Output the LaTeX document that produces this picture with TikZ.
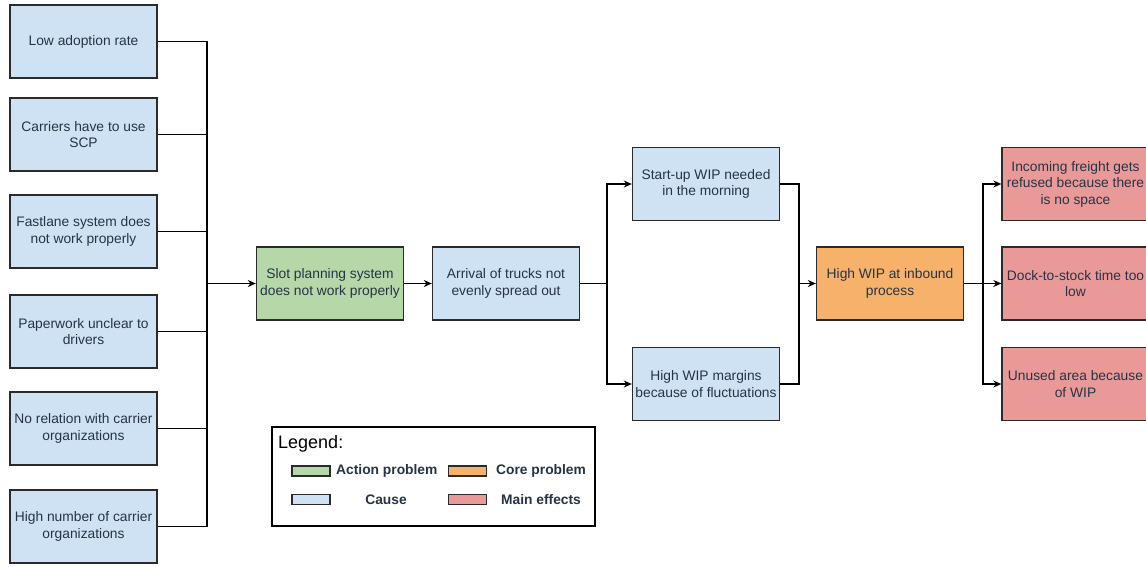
\documentclass[tikz,border=0pt]{standalone}
\usepackage{fontspec}
\setmainfont{Liberation Sans}
\usetikzlibrary{arrows.meta}
\definecolor{causec}{HTML}{CFE2F3}
\definecolor{actionc}{HTML}{B6D7A8}
\definecolor{corec}{HTML}{F6B26B}
\definecolor{effectc}{HTML}{EA9999}
\definecolor{edgec}{HTML}{2B2B2B}
\definecolor{txtc}{HTML}{263445}
\tikzset{
  box/.style={draw=edgec, line width=1.3pt, minimum width=147pt, minimum height=73pt,
    align=center, inner sep=1pt, text=txtc,
    font=\fontsize{13.8}{16.5}\selectfont},
  cause/.style={box, fill=causec},
  action/.style={box, fill=actionc},
  core/.style={box, fill=corec},
  effect/.style={box, fill=effectc},
  link/.style={draw=black, line width=1.4pt},
  arr/.style={link, -{Stealth[length=8pt,width=7pt,inset=2.5pt]}},
  swatch/.style={draw=edgec, line width=1.3pt, minimum width=38pt, minimum height=10pt, inner sep=0pt},
  legtxt/.style={text=txtc, font=\fontsize{13.8}{16}\selectfont\bfseries, inner sep=0pt}
}
\begin{document}
\begin{tikzpicture}[x=1pt,y=-1pt]
\useasboundingbox (0,0) rectangle (1146,566);
\clip (0,0) rectangle (1146,566);
\fill[white] (0,0) rectangle (1146,566);
% causes column
\node[cause] (c1) at (83.5,41.5) {Low adoption rate};
\node[cause] (c2) at (83.5,134.5) {Carriers have to use\\SCP};
\node[cause] (c3) at (83.5,231.5) {Fastlane system does\\not work properly};
\node[cause] (c4) at (83.5,331.5) {Paperwork unclear to\\drivers};
\node[cause] (c5) at (83.5,428.5) {No relation with carrier\\organizations};
\node[cause] (c6) at (83.5,526.5) {High number of carrier\\organizations};
% main chain
\node[action] (slot) at (330,283.5) {Slot planning system\\does not work properly};
\node[cause] (arrv) at (506,283.5) {Arrival of trucks not\\evenly spread out};
\node[cause] (su) at (706,184) {Start-up WIP needed\\in the morning};
\node[cause] (mg) at (706,384) {High WIP margins\\because of fluctuations};
\node[core] (core) at (890,283.5) {High WIP at inbound\\process};
\node[effect] (e1) at (1075.5,184) {Incoming freight gets\\refused because there\\is no space};
\node[effect] (e2) at (1075.5,283.5) {Dock-to-stock time too\\low};
\node[effect] (e3) at (1075.5,384) {Unused area because\\of WIP};
% bus points
\coordinate (b1) at (207,283.5);
\coordinate (b2) at (607,283.5);
\coordinate (b3) at (799,283.5);
\coordinate (b4) at (983,283.5);
% connectors
\foreach \c in {c1,c2,c3,c4,c5,c6} \draw[link] (\c.east) -| (b1);
\draw[arr] (b1) -- (slot.west);
\draw[arr] (slot.east) -- (arrv.west);
\draw[link] (arrv.east) -- (b2);
\draw[arr] (b2) |- (su.west);
\draw[arr] (b2) |- (mg.west);
\draw[link] (su.east) -| (b3);
\draw[link] (mg.east) -| (b3);
\draw[arr] (b3) -- (core.west);
\draw[link] (core.east) -- (b4);
\draw[arr] (b4) |- (e1.west);
\draw[arr] (b4) -- (e2.west);
\draw[arr] (b4) |- (e3.west);
% legend
\node[draw=black, line width=1.2pt, minimum width=323pt, minimum height=99pt, inner sep=0pt] (legend) at (433.5,476.5) {};
\node[anchor=west, inner sep=0pt, font=\fontsize{18}{20}\selectfont] (legtitle) at (278,444) {Legend:};
\node[swatch, fill=actionc] (sw1) at (311,471) {};
\node[swatch, fill=corec] (sw2) at (467.5,471) {};
\node[swatch, fill=causec] (sw3) at (311,499.5) {};
\node[swatch, fill=effectc] (sw4) at (467.5,499.5) {};
\node[legtxt, anchor=west] (l1) at (336,471) {Action problem};
\node[legtxt, anchor=west] (l2) at (496,471) {Core problem};
\node[legtxt] (l3) at (386,499.5) {Cause};
\node[legtxt] (l4) at (541,499.5) {Main effects};
\end{tikzpicture}
\end{document}
